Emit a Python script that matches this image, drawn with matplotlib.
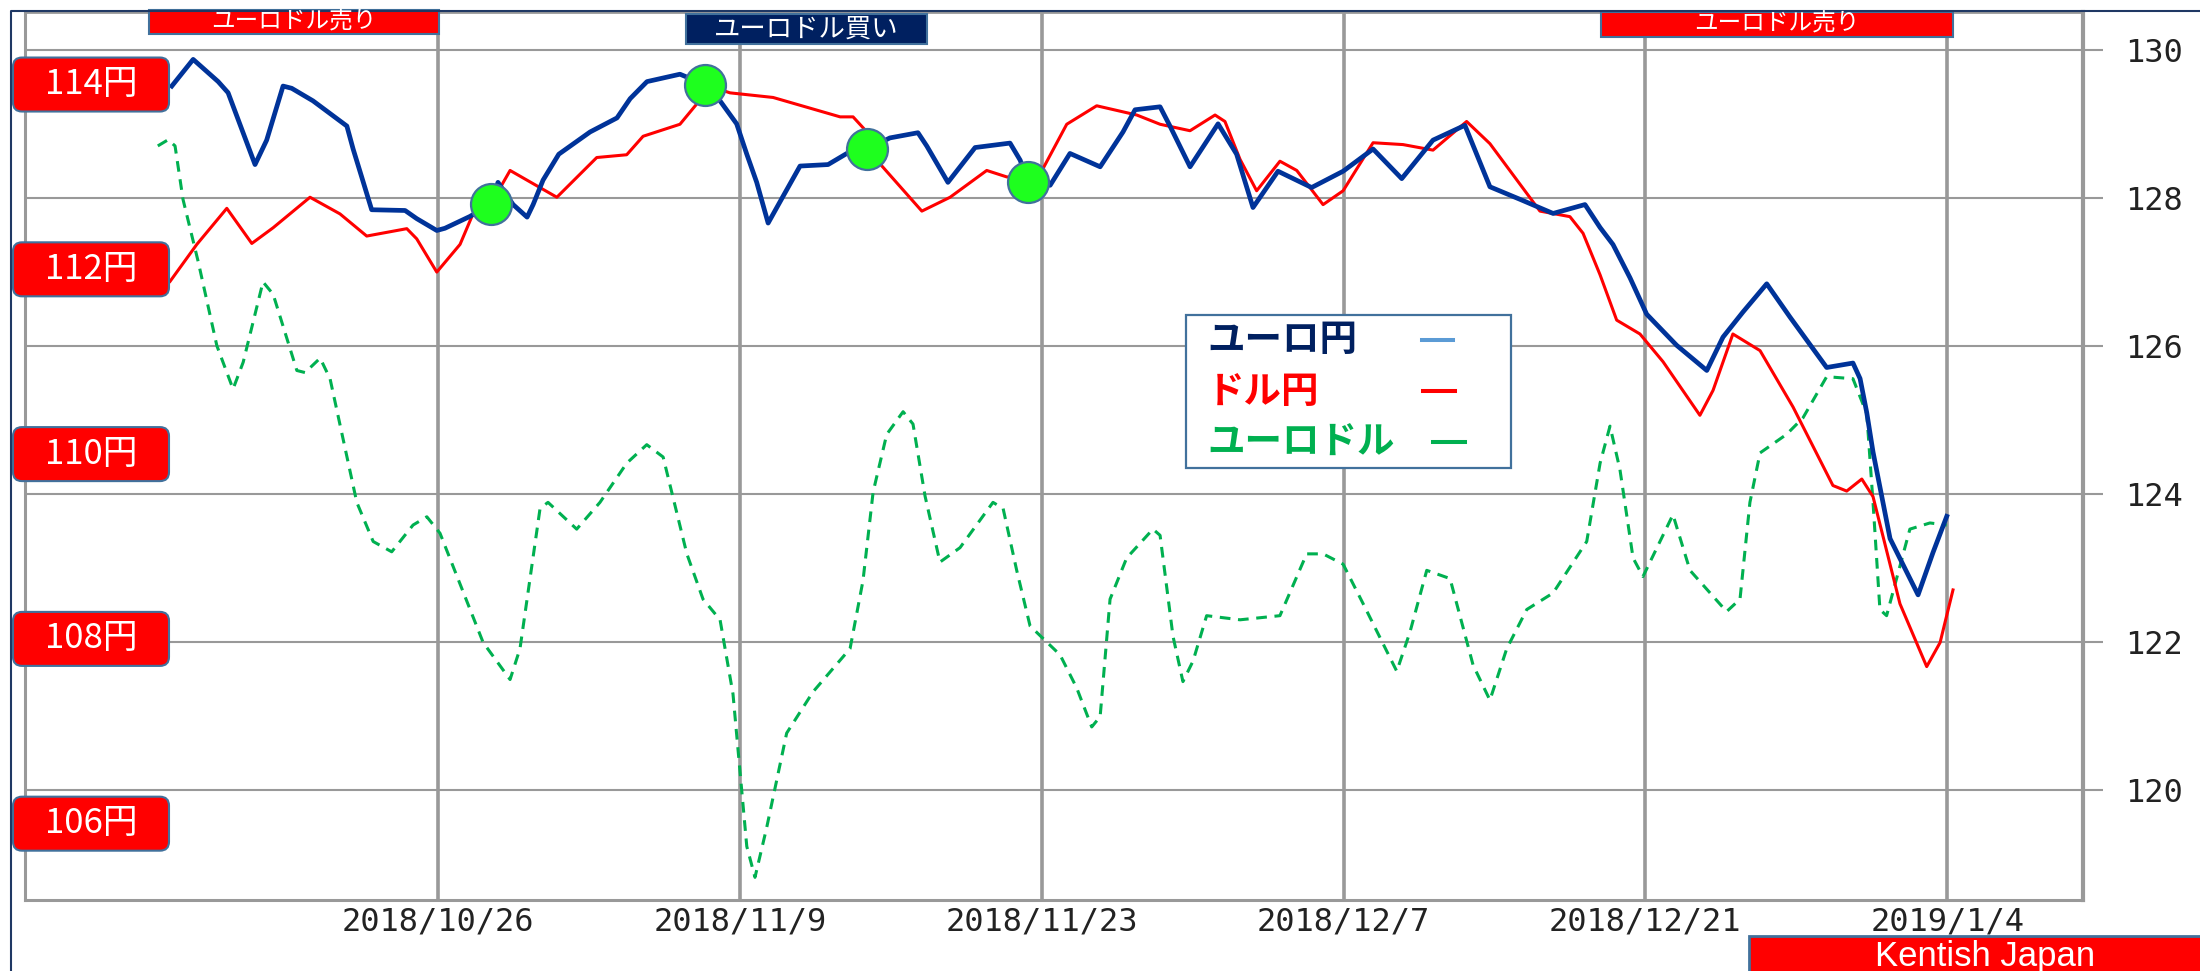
import numpy as np
import matplotlib
matplotlib.use("Agg")
import matplotlib.pyplot as plt
from matplotlib.patches import FancyBboxPatch
from matplotlib.transforms import Affine2D
from matplotlib.lines import Line2D

W, H = 2200, 971
BASE = np.datetime64("2018-10-26")
JP = ["Noto Sans CJK JP", "DejaVu Sans"]

# ユーロ円 (right axis)
eurjpy_day = [-12.35, -11.36, -10.20, -9.74, -8.49, -7.95, -7.19, -6.79, -5.80, -4.23, -3.94, -3.54, -3.08,
              -1.53, -0.99, -0.06, 0.32, 1.48, 2.46, 2.78, 3.48, 4.13, 4.41, 4.87, 5.60, 7.05, 8.30, 8.91,
              9.69, 11.22, 12.38, 13.08, 13.85, 14.32, 14.78, 15.31, 16.00, 16.79, 18.09, 18.96, 19.90,
              20.96, 22.26, 22.67, 23.65, 24.91, 26.53, 27.00, 27.37, 28.39, 29.31, 30.71, 31.77, 32.33,
              33.49, 33.95, 34.88, 36.18, 37.04, 37.80, 38.96, 40.52, 41.98, 43.37, 44.70, 46.15, 47.63,
              48.79, 50.19, 51.72, 53.20, 53.90, 54.50, 55.29, 56.06, 57.45, 58.85, 59.60, 60.53, 61.63,
              62.71, 64.41, 65.63, 65.96, 66.27, 66.56, 67.02, 67.35, 68.65, 69.34, 69.98]
eurjpy = [129.51, 129.87, 129.57, 129.42, 128.45, 128.78, 129.51, 129.48, 129.31, 128.97, 128.66, 128.28, 127.84,
          127.83, 127.72, 127.56, 127.59, 127.75, 127.92, 128.21, 127.91, 127.74, 127.91, 128.24, 128.59, 128.89,
          129.08, 129.34, 129.57, 129.67, 129.53, 129.31, 129.00, 128.59, 128.21, 127.66, 128.02, 128.43, 128.45,
          128.60, 128.66, 128.81, 128.88, 128.70, 128.21, 128.68, 128.74, 128.51, 128.21, 128.17, 128.60, 128.42,
          128.89, 129.19, 129.23, 128.97, 128.42, 129.00, 128.59, 127.87, 128.36, 128.14, 128.36, 128.66, 128.26,
          128.78, 128.98, 128.15, 127.98, 127.79, 127.91, 127.60, 127.37, 126.92, 126.43, 126.01, 125.67, 126.12,
          126.46, 126.84, 126.39, 125.71, 125.77, 125.56, 125.10, 124.57, 123.89, 123.40, 122.64, 123.21, 123.70]

# ドル円 (left red labels)
usdjpy_day = [-12.43, -11.19, -9.80, -8.64, -7.65, -5.94, -4.55, -3.31, -1.45, -0.99, -0.06, 1.02, 1.62, 2.46,
              3.34, 5.51, 7.36, 8.75, 9.51, 11.22, 12.00, 12.38, 13.54, 15.54, 18.65, 19.25, 19.88, 20.58,
              22.44, 23.75, 25.45, 26.38, 27.37, 28.06, 29.16, 30.55, 32.41, 33.49, 34.88, 36.04, 36.50,
              37.20, 37.97, 39.05, 39.83, 41.05, 41.98, 43.37, 44.76, 46.15, 47.71, 48.79, 51.11, 52.50,
              53.11, 53.90, 54.67, 55.75, 56.82, 58.53, 59.14, 60.06, 61.32, 62.85, 64.70, 65.34, 66.04,
              66.56, 67.81, 69.05, 69.67, 70.27]
usdjpy = [111.87, 112.27, 112.66, 112.28, 112.45, 112.78, 112.60, 112.36, 112.44, 112.33, 111.97, 112.27, 112.60,
          112.71, 113.07, 112.78, 113.21, 113.24, 113.44, 113.57, 113.79, 114.00, 113.91, 113.86, 113.65, 113.65,
          113.49, 113.12, 112.63, 112.78, 113.07, 113.00, 112.99, 113.09, 113.57, 113.77, 113.67, 113.57, 113.50,
          113.67, 113.60, 113.19, 112.85, 113.17, 113.07, 112.70, 112.85, 113.37, 113.35, 113.29, 113.60, 113.36,
          112.63, 112.57, 112.39, 111.94, 111.45, 111.30, 111.00, 110.42, 110.69, 111.30, 111.12, 110.51, 109.66,
          109.60, 109.73, 109.54, 108.38, 107.70, 107.96, 108.53]

# ユーロドル (no scale shown)
eurusd_day = [-13.0, -12.52, -12.20, -11.83, -11.13, -10.26, -9.51, -9.04, -8.12, -7.65, -6.55, -6.17, -5.47,
              -5.01, -3.77, -3.01, -2.15, -1.16, -0.52, 0.09, 2.09, 3.34, 3.80, 4.73, 5.10, 6.43, 7.51, 8.75,
              9.68, 10.44, 11.54, 12.29, 13.08, 13.68, 14.32, 14.70, 15.24, 16.17, 17.39, 19.11, 19.71, 20.18,
              20.81, 21.57, 22.03, 22.59, 23.28, 24.21, 25.74, 26.21, 26.84, 27.46, 28.85, 29.62, 30.32, 30.71,
              31.17, 31.94, 33.16, 33.49, 34.09, 34.55, 35.02, 35.65, 37.20, 39.05, 40.29, 41.05, 41.98, 42.90,
              44.47, 45.08, 45.86, 46.94, 48.01, 48.79, 49.57, 50.50, 51.72, 53.28, 53.90, 54.36, 54.82, 55.43,
              55.89, 57.28, 58.07, 59.77, 60.39, 60.85, 61.32, 62.55, 63.31, 64.41, 65.63, 66.27, 66.56, 66.88,
              67.19, 68.27, 69.20, 69.98]
eurusd = [1.1577, 1.1580, 1.1577, 1.1551, 1.1521, 1.1480, 1.1459, 1.1472, 1.1511, 1.1505, 1.1468, 1.1467, 1.1474,
          1.1464, 1.1404, 1.1385, 1.1380, 1.1393, 1.1397, 1.1389, 1.1336, 1.1318, 1.1333, 1.1401, 1.1404, 1.1391,
          1.1404, 1.1423, 1.1432, 1.1426, 1.1379, 1.1357, 1.1347, 1.1311, 1.1237, 1.1222, 1.1246, 1.1292, 1.1312,
          1.1333, 1.1366, 1.1409, 1.1437, 1.1448, 1.1442, 1.1407, 1.1375, 1.1382, 1.1404, 1.1401, 1.1371, 1.1344,
          1.1330, 1.1314, 1.1295, 1.1300, 1.1357, 1.1377, 1.1391, 1.1388, 1.1339, 1.1317, 1.1327, 1.1349, 1.1347,
          1.1349, 1.1379, 1.1379, 1.1374, 1.1355, 1.1322, 1.1341, 1.1371, 1.1367, 1.1325, 1.1308, 1.1333, 1.1352,
          1.1360, 1.1385, 1.1423, 1.1441, 1.1420, 1.1377, 1.1368, 1.1398, 1.1371, 1.1351, 1.1357, 1.1404, 1.1428,
          1.1437, 1.1445, 1.1465, 1.1464, 1.1447, 1.1404, 1.1352, 1.1349, 1.1391, 1.1394, 1.1393]

# green crossing markers (on ユーロ円 scale)
cross_day = [2.46, 12.38, 19.90, 27.37]
cross_eurjpy = [127.92, 129.53, 128.66, 128.21]

tick_day = [0, 14, 28, 42, 56, 70]
tick_labels = ["2018/10/26", "2018/11/9", "2018/11/23", "2018/12/7", "2018/12/21", "2019/1/4"]
right_ticks = [120, 122, 124, 126, 128, 130]
usd_marks = [114, 112, 110, 108, 106]


def to_dates(days):
    return BASE + (np.asarray(days, dtype=float) * 86400).round().astype("timedelta64[s]")


fig = plt.figure(figsize=(W / 100, H / 100), dpi=100)
TP = Affine2D().scale(1 / W, -1 / H).translate(0, 1) + fig.transFigure   # top-left pixel coords

ax = fig.add_axes([25 / W, (H - 900) / H, (2083 - 25) / W, 888 / H])
ax.set_xlim(to_dates(-19.16), to_dates(76.3))
ax.set_ylim(118.52, 130.51)

ax_eu = ax.twinx()
ax_eu.set_ylim(1.1211, 1.1642)
ax_eu.axis("off")
ax_usd = ax.twinx()
ax_usd.set_ylim(105.174, 114.785)
ax_usd.axis("off")
ax_ej = ax.twinx()
ax_ej.set_ylim(ax.get_ylim())
ax_ej.axis("off")

# twinx moves the main ticks to the left, so set them up afterwards
ax.yaxis.tick_right()
ax.set_yticks(right_ticks)
ax.set_yticklabels([str(t) for t in right_ticks], fontfamily="DejaVu Sans Mono")
ax.set_xticks(to_dates(tick_day))
ax.set_xticklabels(tick_labels, fontfamily="DejaVu Sans Mono")
ax.tick_params(axis="y", which="both", left=False, labelleft=False, right=True, labelright=True,
               length=14.4, width=1.5, color="#999999", pad=16, labelsize=23, labelcolor="#222222")
ax.tick_params(axis="x", length=0, pad=5, labelsize=23, labelcolor="#222222")
ax.grid(axis="y", color="#999999", lw=1.5)
ax.grid(axis="x", color="#999999", lw=2.6)
ax.set_axisbelow(True)
for side, lw in [("left", 2.2), ("bottom", 2.2), ("right", 3.0), ("top", 2.0)]:
    ax.spines[side].set_color("#999999")
    ax.spines[side].set_linewidth(lw)

ax_eu.plot(to_dates(eurusd_day), eurusd, color="#00B050", lw=2.2, dashes=(3.5, 2.5))
ax_usd.plot(to_dates(usdjpy_day), usdjpy, color="#FF0000", lw=2.2)
ax_ej.plot(to_dates(eurjpy_day), eurjpy, color="#003399", lw=3.4)
ax_ej.scatter(to_dates(cross_day), cross_eurjpy, s=870, c="#1EFF1E", edgecolors="#41719C",
              linewidths=1.6, zorder=5)


def box(x0, y0, x1, y1, fc, ec="#41719C", lw=1.5, r=0):
    style = f"round,pad=0,rounding_size={r}" if r else "square,pad=0"
    fig.add_artist(FancyBboxPatch((x0, y0), x1 - x0, y1 - y0, boxstyle=style, fc=fc, ec=ec, lw=lw,
                                  transform=TP))


def label(x, y, s, **kw):
    fig.text(x, y, s, transform=TP, **kw)


# outer frame
fig.add_artist(Line2D([11, 11, W], [H, 11, 11], color="#1F3864", lw=1.5, transform=TP))

# USD/JPY level boxes on the left
for v in usd_marks:
    yc = H - ax_usd.transData.transform((0, v))[1]
    box(13, yc - 27, 169, yc + 27, "#FF0000", r=9)
    label(91, yc, f"{v}円", color="white", fontsize=25, family=JP, ha="center", va="center")

# signal boxes on top
box(149, 10, 439, 34, "#FF0000")
label(294, 22, "ユーロドル売り", color="white", fontsize=17, family=JP, ha="center", va="center")
box(686, 14, 927, 44, "#002060")
label(806, 29, "ユーロドル買い", color="white", fontsize=19, family=JP, ha="center", va="center")
box(1601, 12, 1953, 37, "#FF0000")
label(1777, 24, "ユーロドル売り", color="white", fontsize=17, family=JP, ha="center", va="center")

# legend
box(1186, 315, 1511, 468, "white", lw=1.6)
for txt, col, yc, (lx0, lx1), lcol in [("ユーロ円", "#002060", 340, (1422, 1453), "#5B9BD5"),
                                        ("ドル円", "#FF0000", 391, (1423, 1455), "#FF0000"),
                                        ("ユーロドル", "#00B050", 442, (1433, 1465), "#00B050")]:
    label(1207, yc, txt, color=col, fontsize=27, fontweight="bold", family=JP, ha="left", va="center")
    fig.add_artist(Line2D([lx0, lx1], [yc, yc], color=lcol, lw=2.9, transform=TP))

# footer
box(1749, 936, W + 5, H + 10, "#FF0000", lw=2)
label(1985, 966, "Kentish Japan", color="white", fontsize=25, family=["Liberation Sans", "DejaVu Sans"],
      ha="center", va="baseline")

fig.savefig("out.png", dpi=100)
